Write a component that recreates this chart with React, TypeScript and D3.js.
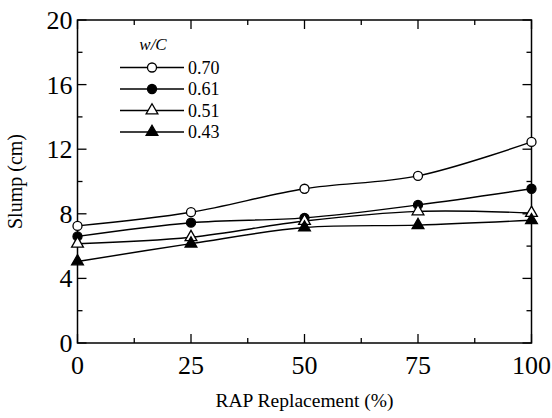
import React, { useRef, useEffect } from "react";
import * as d3 from "d3";

const rapLevels = [0, 25, 50, 75, 100];
const seriesNames = ["0.70", "0.61", "0.51", "0.43"];
const slump070 = [7.25, 8.1, 9.55, 10.35, 12.45];
const slump061 = [6.6, 7.45, 7.75, 8.55, 9.55];
const slump051 = [6.15, 6.55, 7.55, 8.15, 8.05];
const slump043 = [5.05, 6.15, 7.15, 7.3, 7.6];
const xTicks = [0, 25, 50, 75, 100];
const yTicks = [0, 4, 8, 12, 16, 20];

const W = 552;
const H = 418;

const App = () => {
  const ref = useRef<SVGSVGElement>(null);

  useEffect(() => {
    const margin = { top: 20, right: 20.5, bottom: 75, left: 77.5 };
    const width = W - margin.left - margin.right;
    const height = H - margin.top - margin.bottom;

    const root = d3.select(ref.current);
    root.selectAll("*").remove();
    const svg = root
      .append("g")
      .attr("transform", `translate(${margin.left},${margin.top})`);

    const x = d3.scaleLinear().domain([0, 100]).range([0, width]);
    const y = d3.scaleLinear().domain([0, 20]).range([height, 0]);

    // frame
    svg
      .append("rect")
      .attr("width", width)
      .attr("height", height)
      .attr("fill", "none")
      .attr("stroke", "#000")
      .attr("stroke-width", 1.5);

    // inward ticks on all four sides
    const major = 9;
    const minor = 5;
    const xMinor = d3.range(12.5, 100, 25);
    const yMinor = d3.range(2, 20, 4);
    const tickG = svg.append("g").attr("stroke", "#000").attr("stroke-width", 1.3);
    xTicks.concat(xMinor).forEach((v) => {
      const len = xTicks.includes(v) ? major : minor;
      tickG.append("line").attr("x1", x(v)).attr("x2", x(v)).attr("y1", height).attr("y2", height - len);
      tickG.append("line").attr("x1", x(v)).attr("x2", x(v)).attr("y1", 0).attr("y2", len);
    });
    yTicks.concat(yMinor).forEach((v) => {
      const len = yTicks.includes(v) ? major : minor;
      tickG.append("line").attr("x1", 0).attr("x2", len).attr("y1", y(v)).attr("y2", y(v));
      tickG.append("line").attr("x1", width).attr("x2", width - len).attr("y1", y(v)).attr("y2", y(v));
    });

    // tick labels
    svg
      .selectAll(".xl")
      .data(xTicks)
      .enter()
      .append("text")
      .attr("x", (d) => x(d))
      .attr("y", height + 31)
      .attr("text-anchor", "middle")
      .attr("font-size", 26)
      .text((d) => d);

    svg
      .selectAll(".yl")
      .data(yTicks)
      .enter()
      .append("text")
      .attr("x", -5)
      .attr("y", (d) => y(d) + 9)
      .attr("text-anchor", "end")
      .attr("font-size", 26)
      .text((d) => d);

    // axis titles
    svg
      .append("text")
      .attr("x", width / 2)
      .attr("y", height + 64)
      .attr("text-anchor", "middle")
      .attr("font-size", 19.5)
      .text("RAP Replacement (%)");

    svg
      .append("text")
      .attr("transform", `translate(-56,${height / 2}) rotate(-90)`)
      .attr("text-anchor", "middle")
      .attr("font-size", 20)
      .text("Slump (cm)");

    const allSeries = [slump070, slump061, slump051, slump043];
    const fills = ["#fff", "#000", "#fff", "#000"];
    const shapes = [d3.symbolCircle, d3.symbolCircle, d3.symbolTriangle, d3.symbolTriangle];
    const sizes = [64, 64, 60, 60];

    const line = d3
      .line<number>()
      .x((d, i) => x(rapLevels[i]))
      .y((d) => y(d))
      .curve(d3.curveCatmullRom.alpha(0.5));

    allSeries.forEach((vals) => {
      svg
        .append("path")
        .attr("d", line(vals))
        .attr("fill", "none")
        .attr("stroke", "#000")
        .attr("stroke-width", 1.4);
    });

    allSeries.forEach((vals, s) => {
      const sym = d3.symbol().type(shapes[s]).size(sizes[s]);
      svg
        .selectAll(`.m${s}`)
        .data(vals)
        .enter()
        .append("path")
        .attr("d", sym())
        .attr("transform", (d, i) => `translate(${x(rapLevels[i])},${y(d)})`)
        .attr("fill", fills[s])
        .attr("stroke", "#000")
        .attr("stroke-width", 1.3);
    });

    // legend
    const lg = root.append("g").attr("transform", "translate(120,0)");
    lg.append("text")
      .attr("x", 33)
      .attr("y", 50)
      .attr("text-anchor", "middle")
      .attr("font-style", "italic")
      .attr("font-size", 17)
      .text("w/C");
    seriesNames.forEach((name, s) => {
      const ly = 67.5 + s * 21.5;
      lg.append("line")
        .attr("x1", 0)
        .attr("x2", 64)
        .attr("y1", ly)
        .attr("y2", ly)
        .attr("stroke", "#000")
        .attr("stroke-width", 1.4);
      lg.append("path")
        .attr("d", d3.symbol().type(shapes[s]).size(sizes[s])())
        .attr("transform", `translate(32,${ly})`)
        .attr("fill", fills[s])
        .attr("stroke", "#000")
        .attr("stroke-width", 1.3);
      lg.append("text")
        .attr("x", 68)
        .attr("y", ly + 6)
        .attr("font-size", 18)
        .text(name);
    });
  }, []);

  return (
    <svg
      ref={ref}
      width={W}
      height={H}
      fontFamily="Liberation Serif"
      style={{ position: "absolute", left: 0, top: 0, background: "#fff" }}
    />
  );
};

export default App;
